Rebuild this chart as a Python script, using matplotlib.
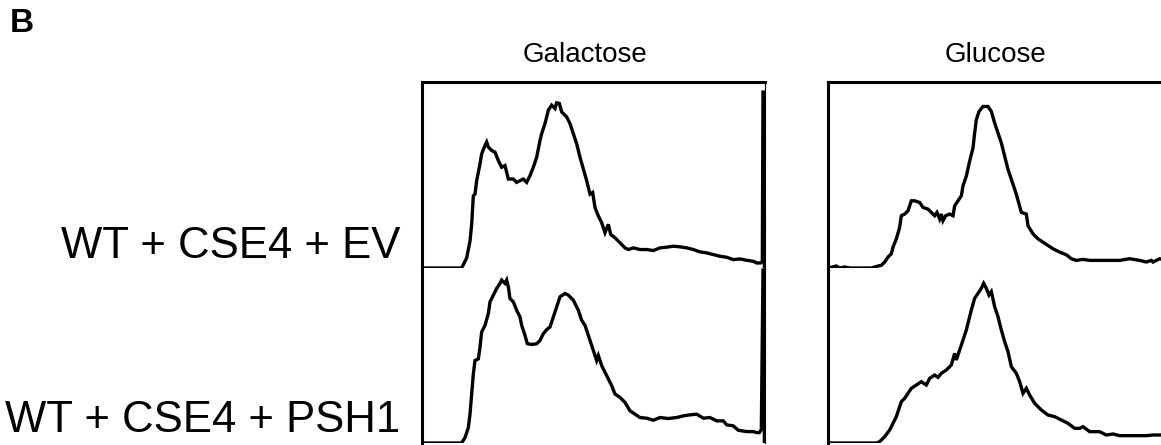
import numpy as np
import matplotlib
matplotlib.use('Agg')
import matplotlib.pyplot as plt

plt.rcParams['font.family'] = ['Liberation Sans', 'DejaVu Sans']

# Etiquetas
columnas = ['Galactose', 'Glucose']
filas = ['WT + CSE4 + EV', 'WT + CSE4 + PSH1']

# Histogramas de contenido de ADN (canal, cuentas)
gal_ev_canal = [0, 119, 124, 134, 144, 149, 154, 159, 164, 174, 179, 189, 194, 199, 209, 219, 229, 239, 249, 254,
                259, 274, 284, 294, 304, 314, 324, 334, 344, 354, 359, 369, 379, 389, 399, 404, 412, 419, 434, 444,
                454, 464, 474, 484, 494, 504, 512, 519, 529, 539, 549, 559, 566, 579, 594, 609, 619, 634, 654, 674,
                694, 714, 734, 754, 774, 794, 814, 834, 854, 874, 894, 914, 934, 954, 974, 994, 1004, 1016, 1021,
                1023, 1027, 1027]
gal_ev_cuentas = [0, 0, 10, 30, 80, 130, 215, 220, 260, 310, 340, 365, 375, 360, 350, 345, 320, 300, 305, 285,
                  265, 265, 255, 260, 265, 255, 275, 300, 330, 380, 400, 430, 470, 485, 475, 492, 490, 465, 450, 430,
                  400, 370, 330, 295, 260, 220, 225, 180, 155, 135, 105, 130, 100, 90, 75, 60, 55, 60, 55, 55,
                  52, 60, 62, 65, 63, 60, 55, 48, 45, 40, 35, 32, 25, 27, 23, 20, 15, 15, 20,
                  524, 524, 0]

gal_psh1_canal = [0, 84, 119, 129, 139, 144, 149, 154, 159, 169, 174, 179, 189, 199, 204, 214, 224, 234, 239, 249,
                  254, 259, 264, 274, 284, 294, 299, 309, 316, 329, 344, 354, 364, 374, 384, 394, 404, 414, 429, 439,
                  454, 469, 479, 489, 499, 509, 519, 524, 529, 539, 549, 559, 569, 579, 594, 609, 624, 639, 654, 674,
                  694, 714, 739, 764, 784, 804, 824, 844, 864, 884, 904, 914, 934, 949, 974, 994, 1004, 1012, 1018,
                  1023, 1027, 1027]
gal_psh1_cuentas = [0, 0, 0, 16, 46, 86, 146, 206, 246, 251, 286, 331, 351, 386, 421, 441, 461, 476, 486, 476,
                    486, 466, 431, 421, 396, 376, 351, 321, 296, 294, 296, 306, 326, 338, 346, 376, 406, 436, 446, 441,
                    426, 396, 366, 351, 321, 291, 261, 246, 261, 231, 211, 191, 171, 146, 136, 121, 96, 86, 76, 74,
                    68, 76, 73, 76, 81, 84, 86, 74, 76, 66, 66, 54, 51, 38, 34, 34, 31, 31, 40,
                    516, 516, 0]

glu_ev_canal = [0, 25, 35, 50, 65, 105, 130, 150, 160, 170, 180, 190, 195, 205, 215, 220, 230, 240, 250, 260,
                275, 285, 300, 310, 320, 327, 335, 340, 345, 353, 365, 375, 380, 390, 400, 405, 415, 425, 435, 440,
                445, 453, 465, 480, 490, 500, 510, 520, 530, 540, 550, 565, 580, 595, 600, 615, 630, 645, 660, 675,
                695, 715, 730, 745, 765, 785, 815, 845, 875, 905, 935, 955, 970, 975, 985, 995, 1002]
glu_ev_cuentas = [0, 6, 0, 3, 0, 0, 0, 6, 8, 18, 33, 43, 63, 88, 123, 158, 163, 173, 203, 203,
                  198, 183, 178, 168, 158, 168, 148, 163, 143, 158, 163, 158, 188, 203, 218, 248, 278, 323, 363, 408,
                  448, 473, 488, 488, 473, 438, 408, 378, 338, 298, 268, 223, 168, 163, 128, 103, 88, 78, 68, 58,
                  48, 40, 28, 23, 26, 23, 23, 23, 23, 28, 23, 18, 23, 18, 23, 28, 26]

glu_psh1_canal = [5, 145, 155, 170, 185, 195, 205, 215, 220, 230, 240, 250, 265, 280, 295, 305, 320, 330, 340, 355,
                  370, 380, 385, 395, 405, 415, 430, 440, 450, 460, 467, 475, 483, 490, 500, 510, 520, 530, 540, 550,
                  565, 575, 585, 595, 605, 620, 640, 660, 680, 700, 720, 740, 755, 765, 785, 815, 835, 855, 875, 915,
                  955, 975, 995, 1002]
glu_psh1_cuentas = [0, 0, 4, 19, 39, 59, 79, 109, 124, 134, 149, 164, 174, 184, 174, 194, 204, 197, 209, 219,
                    234, 269, 249, 279, 309, 339, 399, 434, 449, 464, 479, 464, 444, 454, 409, 379, 339, 304, 274, 229,
                    209, 184, 149, 164, 144, 119, 99, 84, 79, 69, 59, 44, 44, 49, 34, 34, 24, 27, 22, 22,
                    22, 24, 24, 24]

datos = [[(gal_ev_canal, gal_ev_cuentas), (glu_ev_canal, glu_ev_cuentas)],
         [(gal_psh1_canal, gal_psh1_cuentas), (glu_psh1_canal, glu_psh1_cuentas)]]
xmax = [1029, 1002]
ymax = [[554, 562], [522, 525]]

fig = plt.figure(figsize=(11.61, 4.45), dpi=100)

izq = [422 / 1161, 828 / 1161]
ancho = [343 / 1161, 334 / 1161]
abajo = [1 - 268 / 445, 1 - 443 / 445]
alto = [186 / 445, 175 / 445]

for i in range(2):
    for j in range(2):
        ax = fig.add_axes([izq[j], abajo[i], ancho[j], alto[i]])
        x, y = datos[i][j]
        ax.plot(x, y, color='black', lw=2.4, solid_joinstyle='miter')
        ax.set_xlim(0, xmax[j])
        ax.set_ylim(0, ymax[i][j])
        ax.set_xticks([])
        ax.set_yticks([])
        ax.spines['bottom'].set_visible(False)
        ax.spines['left'].set_linewidth(2.2)
        ax.spines['top'].set_linewidth(2.2)
        ax.spines['top'].set_visible(i == 0)
        if j == 0:
            ax.spines['right'].set_linewidth(0.8)
        else:
            ax.spines['right'].set_visible(False)

# Titulos de columnas
fig.text(585 / 1161, 1 - 55 / 445, columnas[0], fontsize=20, ha='center', va='center')
fig.text(995 / 1161, 1 - 55 / 445, columnas[1], fontsize=20, ha='center', va='center')

fig.text(400 / 1161, 1 - 247 / 445, filas[0], fontsize=31.5, ha='right', va='center')
fig.text(400 / 1161, 1 - 421 / 445, filas[1], fontsize=31.5, ha='right', va='center')
fig.text(10 / 1161, 1 - 8 / 445, 'B', fontsize=24, fontweight='bold', ha='left', va='top')

fig.savefig('out.png', dpi=100)
